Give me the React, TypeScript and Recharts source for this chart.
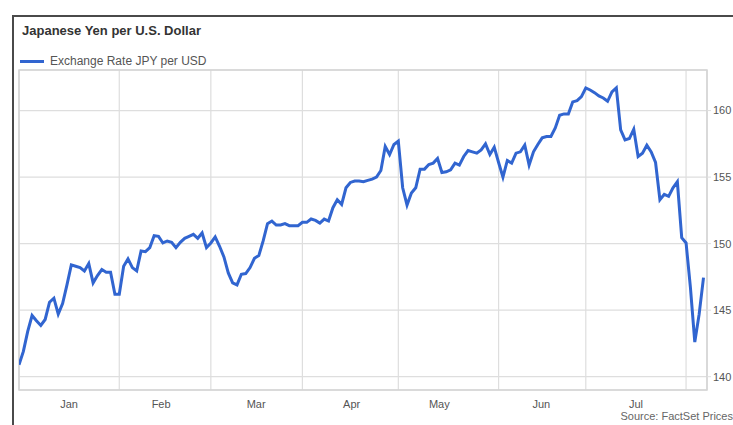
import { LineChart, Line, XAxis, YAxis, CartesianGrid, ReferenceArea } from "recharts";

// JPY per USD, one value per weekday starting Jan 1
const rates = [
  140.9, 141.9, 143.4, 144.6, 144.2, 143.85, 144.3, 145.6, 145.9, 144.7,
  145.5, 146.9, 148.4, 148.3, 148.2, 147.95, 148.5, 147.05, 147.6, 148.05,
  147.85, 147.85, 146.2, 146.2, 148.3, 148.85, 148.2, 147.95, 149.45, 149.4,
  149.7, 150.6, 150.55, 150.05, 150.2, 150.1, 149.7, 150.1, 150.4, 150.55,
  150.7, 150.4, 150.8, 149.7, 150.05, 150.5, 149.8, 149.0, 147.8, 147.05,
  146.9, 147.7, 147.75, 148.2, 148.9, 149.1, 150.2, 151.5, 151.7, 151.4,
  151.4, 151.5, 151.35, 151.35, 151.35, 151.6, 151.6, 151.85, 151.75, 151.55,
  151.85, 151.7, 152.7, 153.3, 152.95, 154.2, 154.6, 154.7, 154.7, 154.65,
  154.75, 154.85, 155.0, 155.5, 157.3, 156.7, 157.45, 157.7, 154.2, 152.9,
  153.8, 154.2, 155.6, 155.6, 155.95, 156.05, 156.4, 155.35, 155.4, 155.55,
  156.05, 155.9, 156.55, 157.0, 156.9, 156.8, 157.05, 157.5, 156.7, 157.25,
  156.1, 155.0, 156.25, 156.05, 156.8, 156.9, 157.4, 155.9, 156.9, 157.45,
  157.95, 158.05, 158.05, 158.7, 159.65, 159.75, 159.75, 160.65, 160.75, 161.05,
  161.7, 161.55, 161.35, 161.1, 160.95, 160.7, 161.4, 161.7, 158.55, 157.8,
  157.9, 158.6, 156.55, 156.8, 157.4, 156.9, 156.1, 153.3, 153.7, 153.55,
  154.2, 154.65, 150.45, 150.05, 146.7, 142.6, 144.7, 147.45,
];

// weekday index where each month starts (Jan..Aug)
const monthStarts = [0, 23, 44, 65, 87, 110, 130, 153];
// where the month names sit
const monthMids = [11.5, 32.6, 54.4, 76.3, 96.4, 119.8, 141.5];
const monthNames = ["Jan", "Feb", "Mar", "Apr", "May", "Jun", "Jul"];
const yTicks = [140, 145, 150, 155, 160];

const data = rates.map((v, i) => ({ day: i, rate: v }));

const BLUE = "#3165d0";
const GRID = "#dedede";
const FONT = '"Liberation Sans", Arial, sans-serif';

export default function App() {
  return (
    <div
      style={{
        position: "absolute",
        left: 0,
        top: 0,
        width: 733,
        height: 425,
        overflow: "hidden",
        background: "#fff",
        fontFamily: FONT,
      }}
    >
      {/* outer frame */}
      <div
        style={{
          position: "absolute",
          left: 12,
          top: 15,
          width: 740,
          height: 420,
          borderTop: "2px solid #4a4a4a",
          borderLeft: "2px solid #4a4a4a",
        }}
      />
      <div
        style={{
          position: "absolute",
          left: 22,
          top: 23,
          fontSize: 13,
          fontWeight: 700,
          color: "#333",
        }}
      >
        Japanese Yen per U.S. Dollar
      </div>
      {/* legend */}
      <div
        style={{
          position: "absolute",
          left: 20,
          top: 54,
          display: "flex",
          alignItems: "center",
          fontSize: 12,
          color: "#555",
        }}
      >
        <span
          style={{
            display: "inline-block",
            width: 24,
            height: 3,
            background: BLUE,
            marginRight: 6,
          }}
        />
        Exchange Rate JPY per USD
      </div>

      <div style={{ position: "absolute", left: 0, top: 0 }}>
        <LineChart
          width={733}
          height={425}
          data={data}
          margin={{ top: 70, left: 19, right: 0, bottom: 0 }}
        >
          <CartesianGrid xAxisId="grid" stroke={GRID} strokeWidth={1.2} />
          <XAxis
            xAxisId="grid"
            type="number"
            dataKey="day"
            domain={[0, 157.8]}
            allowDataOverflow
            ticks={monthStarts}
            height={0}
            tickSize={5}
            tickLine={{ stroke: GRID }}
            axisLine={{ stroke: "#cfcfcf" }}
            tickFormatter={() => ""}
          />
          <XAxis
            xAxisId="lbl"
            type="number"
            dataKey="day"
            domain={[0, 157.8]}
            allowDataOverflow
            ticks={monthMids}
            height={35}
            axisLine={false}
            tickLine={false}
            tickMargin={4}
            tick={{ fontSize: 11, fill: "#555", fontFamily: FONT }}
            tickFormatter={(v) => monthNames[monthMids.indexOf(v)] ?? ""}
          />
          <YAxis
            orientation="right"
            domain={[139, 163.05]}
            allowDataOverflow
            ticks={yTicks}
            width={26}
            tickSize={4}
            tickMargin={2}
            axisLine={false}
            tickLine={{ stroke: GRID }}
            tick={{ fontSize: 11, fill: "#555", fontFamily: FONT, textAnchor: "start" }}
          />
          <ReferenceArea
            xAxisId="grid"
            x1={0}
            x2={157.8}
            y1={139}
            y2={163.05}
            fill="none"
            stroke="#d4d4d4"
            strokeWidth={1.5}
            ifOverflow="visible"
          />
          <Line
            xAxisId="grid"
            type="linear"
            dataKey="rate"
            stroke={BLUE}
            strokeWidth={3}
            dot={false}
            isAnimationActive={false}
          />
        </LineChart>
      </div>

      <div
        style={{
          position: "absolute",
          right: 0,
          top: 410,
          fontSize: 11,
          color: "#666",
          whiteSpace: "nowrap",
        }}
      >
        Source: FactSet Prices
      </div>
    </div>
  );
}
